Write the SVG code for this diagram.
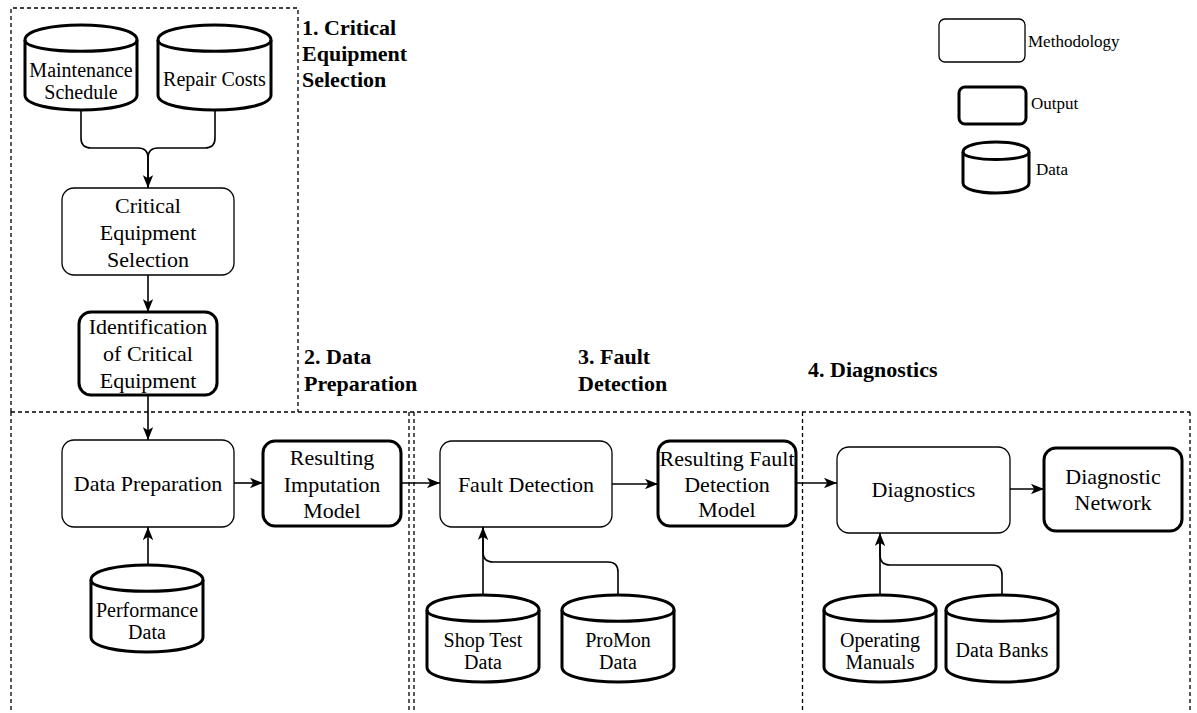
<svg xmlns="http://www.w3.org/2000/svg" width="1197" height="713" viewBox="0 0 1197 713">
  <style>
    .method { fill: #ffffff; stroke: #000000; stroke-width: 1.3; }
    .output { fill: #ffffff; stroke: #000000; stroke-width: 3; }
    .data { fill: #ffffff; stroke: #000000; stroke-width: 3; }
    .inner { fill: none; stroke: #000000; stroke-width: 3; }
    .lane { fill: none; stroke: #000000; stroke-width: 1.3; stroke-dasharray: 4 3; }
    .edge { fill: none; stroke: #000000; stroke-width: 1.6; }
    text { font-family: 'Liberation Serif', 'DejaVu Serif', 'Times New Roman', serif; fill: #000000; }
    .lbl { font-size: 22px; text-anchor: middle; }
    .dlbl { font-size: 20px; text-anchor: middle; }
    .head { font-size: 22px; font-weight: bold; }
    .key { font-size: 17px; }
  </style>
  <defs>
    <marker id="arrow" viewBox="0 0 10 8" refX="10" refY="4" markerWidth="13" markerHeight="10.4" markerUnits="userSpaceOnUse" orient="auto">
      <path d="M0,0 L10,4 L0,8 L2.5,4 Z" fill="#000000"/>
    </marker>
  </defs>

  <rect width="1197" height="713" fill="#ffffff"/>

  <!-- phase lanes -->
  <g id="lanes">
    <path class="lane" d="M11,412 V8 H298 V412"/>
    <path class="lane" d="M11,412 H1190"/>
    <path class="lane" d="M11,412 V713"/>
    <path class="lane" d="M409,412 V713"/>
    <path class="lane" d="M414,412 V713"/>
    <path class="lane" d="M802.5,412 V713"/>
    <path class="lane" d="M1190,412 V713"/>
  </g>

  <!-- phase headings -->
  <g id="headings">
    <text class="head" x="302" y="35" font-family="Liberation Serif, serif">1. Critical</text>
    <text class="head" x="302" y="61" font-family="Liberation Serif, serif">Equipment</text>
    <text class="head" x="302" y="87" font-family="Liberation Serif, serif">Selection</text>
    <text class="head" x="304" y="364" font-family="Liberation Serif, serif">2. Data</text>
    <text class="head" x="304" y="391" font-family="Liberation Serif, serif">Preparation</text>
    <text class="head" x="578" y="364" font-family="Liberation Serif, serif">3. Fault</text>
    <text class="head" x="578" y="391" font-family="Liberation Serif, serif">Detection</text>
    <text class="head" x="808" y="377" font-family="Liberation Serif, serif">4. Diagnostics</text>
  </g>

  <!-- legend -->
  <g id="legend">
    <rect class="method" x="939" y="19" width="86" height="43" rx="6"/>
    <text class="key" x="1028" y="47">Methodology</text>
    <rect class="output" x="959" y="87" width="67" height="37" rx="6"/>
    <text class="key" x="1031" y="109">Output</text>
    <path class="data" d="M963,152 C963,138.7 1029,138.7 1029,152 L1029,183 C1029,196.3 963,196.3 963,183 Z"/>
    <path class="inner" d="M963,152 C963,162 1029,162 1029,152"/>
    <text class="key" x="1036" y="175">Data</text>
  </g>

  <!-- connectors -->
  <g id="connectors">
    <path class="edge" d="M81,110 V138 Q81,148 91,148 H138 Q148,148 148,158 V188" marker-end="url(#arrow)"/>
    <path class="edge" d="M215,110 V138 Q215,148 205,148 H158 Q148,148 148,158 V188"/>
    <path class="edge" d="M148,275 V312" marker-end="url(#arrow)"/>
    <path class="edge" d="M148,395 V440" marker-end="url(#arrow)"/>
    <path class="edge" d="M148,565 V527" marker-end="url(#arrow)"/>
    <path class="edge" d="M234,483 H263" marker-end="url(#arrow)"/>
    <path class="edge" d="M401,483 H440" marker-end="url(#arrow)"/>
    <path class="edge" d="M483,595 V527" marker-end="url(#arrow)"/>
    <path class="edge" d="M618,595 V572 Q618,562 608,562 H493 Q483,562 483,552 V527"/>
    <path class="edge" d="M612,484 H658" marker-end="url(#arrow)"/>
    <path class="edge" d="M796,483 H837" marker-end="url(#arrow)"/>
    <path class="edge" d="M880,595 V533" marker-end="url(#arrow)"/>
    <path class="edge" d="M1002,595 V575 Q1002,565 992,565 H890 Q880,565 880,555 V533"/>
    <path class="edge" d="M1010,489 H1044" marker-end="url(#arrow)"/>
  </g>

  <!-- phase 1 -->
  <g id="maintenance-schedule">
    <path class="data" d="M25,40 C25,20 137,20 137,40 L137,95 C137,115 25,115 25,95 Z"/>
    <path class="inner" d="M25,40 C25,55 137,55 137,40"/>
    <text class="dlbl" x="81" y="77">Maintenance</text>
    <text class="dlbl" x="81" y="99">Schedule</text>
  </g>
  <g id="repair-costs">
    <path class="data" d="M158,40 C158,20 271,20 271,40 L271,95 C271,115 158,115 158,95 Z"/>
    <path class="inner" d="M158,40 C158,55 271,55 271,40"/>
    <text class="dlbl" x="214.5" y="86">Repair Costs</text>
  </g>
  <g id="critical-equipment-selection">
    <rect class="method" x="62" y="188" width="172" height="87" rx="12"/>
    <text class="lbl" x="148" y="213">Critical</text>
    <text class="lbl" x="148" y="240">Equipment</text>
    <text class="lbl" x="148" y="267">Selection</text>
  </g>
  <g id="identification-of-critical-equipment">
    <rect class="output" x="79" y="312" width="138" height="83" rx="12"/>
    <text class="lbl" x="148" y="334">Identification</text>
    <text class="lbl" x="148" y="361">of Critical</text>
    <text class="lbl" x="148" y="388">Equipment</text>
  </g>

  <!-- phase 2 -->
  <g id="data-preparation">
    <rect class="method" x="62" y="440" width="172" height="87" rx="12"/>
    <text class="lbl" x="148" y="491">Data Preparation</text>
  </g>
  <g id="resulting-imputation-model">
    <rect class="output" x="263" y="441" width="138" height="85" rx="12"/>
    <text class="lbl" x="332" y="465">Resulting</text>
    <text class="lbl" x="332" y="492">Imputation</text>
    <text class="lbl" x="332" y="518">Model</text>
  </g>
  <g id="performance-data">
    <path class="data" d="M91,580 C91,560 203,560 203,580 L203,637 C203,657 91,657 91,637 Z"/>
    <path class="inner" d="M91,580 C91,595 203,595 203,580"/>
    <text class="dlbl" x="147" y="617">Performance</text>
    <text class="dlbl" x="147" y="639">Data</text>
  </g>

  <!-- phase 3 -->
  <g id="fault-detection">
    <rect class="method" x="440" y="441" width="172" height="86" rx="12"/>
    <text class="lbl" x="526" y="492">Fault Detection</text>
  </g>
  <g id="resulting-fault-detection-model">
    <rect class="output" x="658" y="441" width="138" height="85" rx="12"/>
    <text class="lbl" x="727" y="466">Resulting Fault</text>
    <text class="lbl" x="727" y="492">Detection</text>
    <text class="lbl" x="727" y="517">Model</text>
  </g>
  <g id="shop-test-data">
    <path class="data" d="M427,610 C427,590 539,590 539,610 L539,667 C539,687 427,687 427,667 Z"/>
    <path class="inner" d="M427,610 C427,625 539,625 539,610"/>
    <text class="dlbl" x="483" y="647">Shop Test</text>
    <text class="dlbl" x="483" y="669">Data</text>
  </g>
  <g id="promon-data">
    <path class="data" d="M562,610 C562,590 674,590 674,610 L674,667 C674,687 562,687 562,667 Z"/>
    <path class="inner" d="M562,610 C562,625 674,625 674,610"/>
    <text class="dlbl" x="618" y="647">ProMon</text>
    <text class="dlbl" x="618" y="669">Data</text>
  </g>

  <!-- phase 4 -->
  <g id="diagnostics">
    <rect class="method" x="837" y="447" width="173" height="86" rx="12"/>
    <text class="lbl" x="923.5" y="497">Diagnostics</text>
  </g>
  <g id="diagnostic-network">
    <rect class="output" x="1044" y="448" width="138" height="83" rx="12"/>
    <text class="lbl" x="1113" y="484">Diagnostic</text>
    <text class="lbl" x="1113" y="510">Network</text>
  </g>
  <g id="operating-manuals">
    <path class="data" d="M824,610 C824,590 936,590 936,610 L936,667 C936,687 824,687 824,667 Z"/>
    <path class="inner" d="M824,610 C824,625 936,625 936,610"/>
    <text class="dlbl" x="880" y="647">Operating</text>
    <text class="dlbl" x="880" y="669">Manuals</text>
  </g>
  <g id="data-banks">
    <path class="data" d="M946,610 C946,590 1058,590 1058,610 L1058,667 C1058,687 946,687 946,667 Z"/>
    <path class="inner" d="M946,610 C946,625 1058,625 1058,610"/>
    <text class="dlbl" x="1002" y="657">Data Banks</text>
  </g>
</svg>
